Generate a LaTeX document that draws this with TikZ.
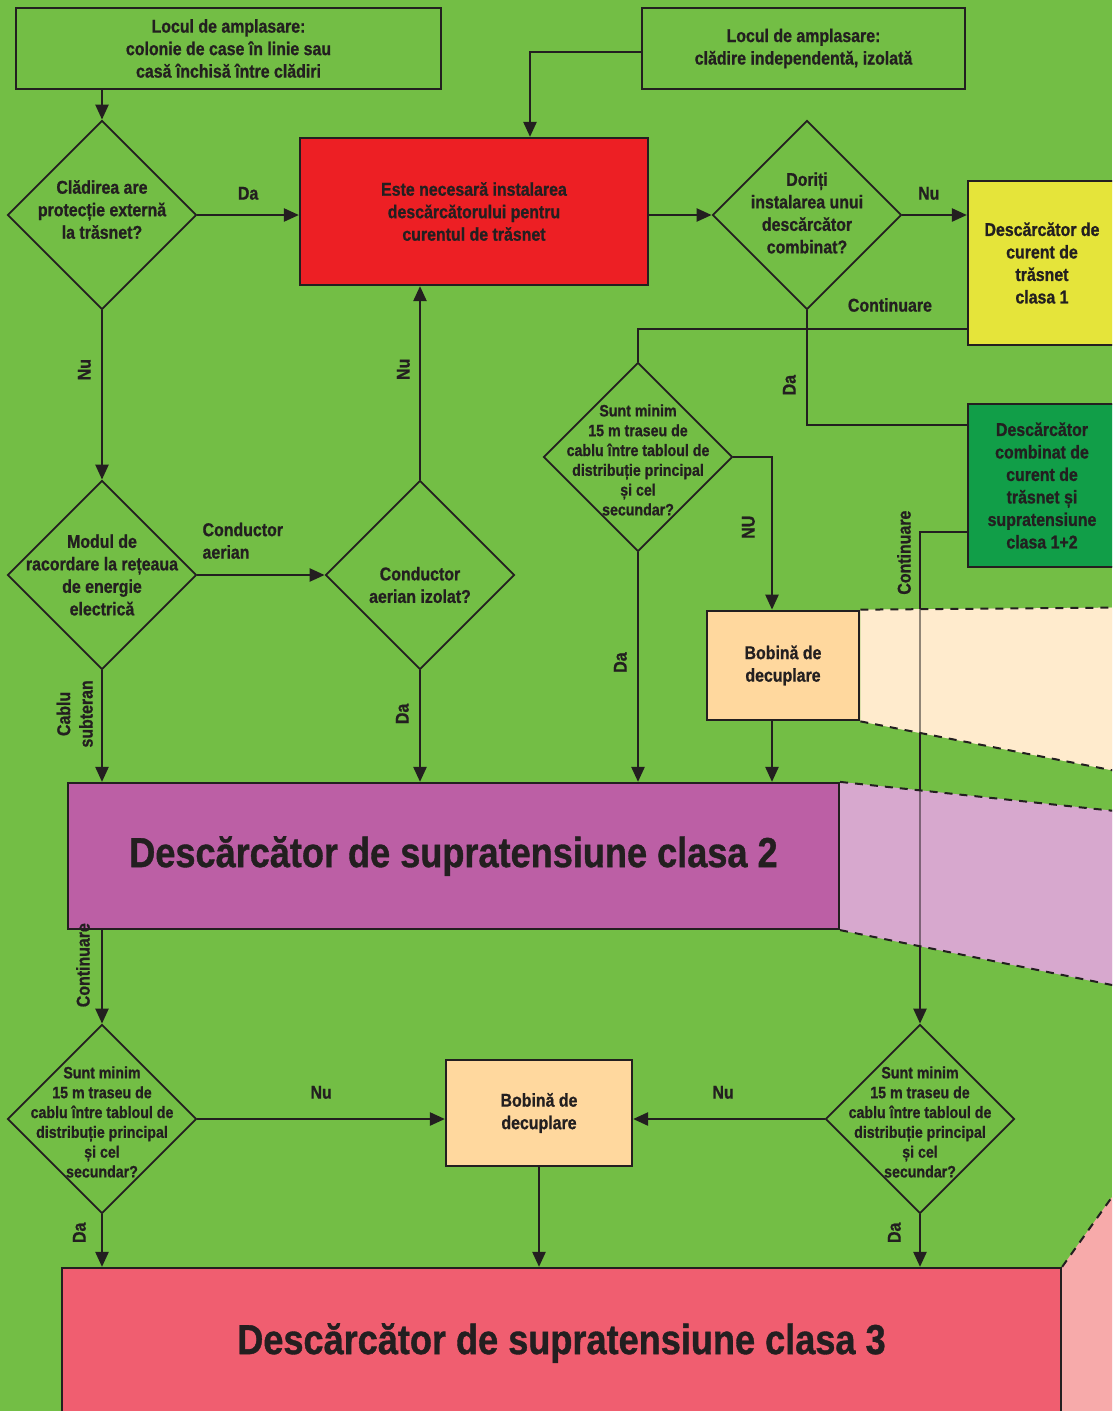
\documentclass[tikz,border=0pt]{standalone}
\usepackage{fontspec}
\setmainfont{Liberation Sans}[FakeStretch=0.86, BoldFeatures={FakeBold=0.9}]
\usetikzlibrary{shapes.geometric,arrows.meta}

\definecolor{fundal}{RGB}{115,190,69}
\definecolor{linie}{RGB}{35,31,32}
\definecolor{rosu}{RGB}{237,31,36}
\definecolor{galben}{RGB}{229,228,58}
\definecolor{verde}{RGB}{17,158,72}
\definecolor{piersica}{RGB}{255,216,158}
\definecolor{piersicadeschis}{RGB}{255,235,205}
\definecolor{mov}{RGB}{188,95,165}
\definecolor{movdeschis}{RGB}{215,168,206}
\definecolor{somon}{RGB}{240,94,112}
\definecolor{rozdeschis}{RGB}{247,170,170}

\tikzset{
  cutie/.style={draw=linie, line width=2.2pt, inner sep=0pt, align=center, text=linie},
  decizie/.style={draw=linie, line width=1.8pt, diamond, inner sep=0pt,
    minimum width=189pt, minimum height=189pt},
  dtext/.style={align=center, text=linie, font=\bfseries\fontsize{16.5}{19.8}\selectfont},
  mare/.style={font=\bfseries\fontsize{42}{50}\selectfont},
  leg/.style={draw=linie, line width=2.4pt},
  et/.style={text=linie, inner sep=0pt},
  vet/.style={text=linie, rotate=90, anchor=south, inner xsep=0pt, inner ysep=10pt},
  punct/.style={draw=linie, line width=2pt, dash pattern=on 8pt off 7pt},
}

\begin{document}
\begin{tikzpicture}[x=1pt,y=-1pt,>={Triangle[length=15pt,width=13pt]},
  font=\bfseries\fontsize{18.5}{22.5}\selectfont]

\clip (0,0) rectangle (1112,1411);
\fill[fundal] (0,0) rectangle (1112,1411);

% casete
\node[cutie, minimum width=425pt, minimum height=81pt] (loc1) at (228.5,48.5)
  {Locul de amplasare:\\colonie de case în linie sau\\casă închisă între clădiri};
\node[cutie, minimum width=323pt, minimum height=81pt] (loc2) at (803.5,48.5)
  {Locul de amplasare:\\clădire independentă, izolată};
\node[cutie, fill=rosu, minimum width=348pt, minimum height=147pt] (nec) at (474,211.5)
  {Este necesară instalarea\\descărcătorului pentru\\curentul de trăsnet};
\node[cutie, fill=galben, minimum width=148pt, minimum height=164pt] (cls1) at (1042,263)
  {Descărcător de\\curent de\\trăsnet\\clasa 1};
\node[cutie, fill=verde, minimum width=148pt, minimum height=163pt] (cls12) at (1042,485.5)
  {Descărcător\\combinat de\\curent de\\trăsnet și\\supratensiune\\clasa 1+2};
\node[cutie, fill=piersica, minimum width=152.5pt, minimum height=109.5pt] (bob1) at (783,665.5)
  {Bobină de\\decuplare};
\node[cutie, fill=mov, mare, minimum width=771pt, minimum height=146pt] (cls2) at (453.5,856)
  {Descărcător de supratensiune clasa 2};
\node[cutie, fill=piersica, minimum width=186pt, minimum height=106pt] (bob2) at (539,1113)
  {Bobină de\\decuplare};
\node[cutie, fill=somon, mare, minimum width=999pt, minimum height=150pt] (cls3) at (561.5,1343)
  {Descărcător de supratensiune clasa 3};

% romburi de decizie
\node[decizie] (q1) at (102,215) {};
\node[decizie] (q2) at (807,215) {};
\node[decizie] (q3) at (638,457) {};
\node[decizie] (q4) at (102,575) {};
\node[decizie] (q5) at (420,575) {};
\node[decizie] (q6) at (102,1119) {};
\node[decizie] (q7) at (920,1119) {};

\node[align=center, text=linie] (q1t) at (102,209.5) {Clădirea are\\protecție externă\\la trăsnet?};
\node[align=center, text=linie] (q2t) at (807,213) {Doriți\\instalarea unui\\descărcător\\combinat?};
\node[dtext] (q3t) at (638,460) {Sunt minim\\15 m traseu de\\cablu între tabloul de\\distribuție principal\\și cel\\secundar?};
\node[align=center, text=linie] (q4t) at (102,575) {Modul de\\racordare la rețeaua\\de energie\\electrică};
\node[align=center, text=linie] (q5t) at (420,585) {Conductor\\aerian izolat?};
\node[dtext] (q6t) at (102,1122) {Sunt minim\\15 m traseu de\\cablu între tabloul de\\distribuție principal\\și cel\\secundar?};
\node[dtext] (q7t) at (920,1122) {Sunt minim\\15 m traseu de\\cablu între tabloul de\\distribuție principal\\și cel\\secundar?};

% zonele din dreapta
\coordinate (w1) at (1116,607.6);
\coordinate (w2) at (1116,771);
\coordinate (w3) at (1116,811.1);
\coordinate (w4) at (1116,985.8);
\coordinate (w5) at (1116,1191.4);
\coordinate (w6) at (1116,1415);
\fill[piersicadeschis] (bob1.north east) -- (w1) -- (w2) -- (bob1.south east) -- cycle;
\fill[movdeschis] (cls2.north east) -- (w3) -- (w4) -- (cls2.south east) -- cycle;
\fill[rozdeschis] (cls3.north east) -- (w5) -- (w6) -- (cls3.south east) -- cycle;

% legaturi
\draw[leg,->] (q1.north |- loc1.south) -- (q1.north);
\draw[leg,->] ([yshift=-3.5pt]loc2.west) -| ([xshift=56pt]nec.north);
\draw[leg,->] (q1.east) -- (q1.east -| nec.west)
  node[midway, above=14pt, et] (da1) {Da};
\draw[leg,->] (nec.east |- q2.west) -- (q2.west);
\draw[leg,->] (q2.east) -- (q2.east -| cls1.west)
  node[pos=0.41, above=14pt, et] (nu1) {Nu};
\draw[leg] (q2.south) |- ([yshift=60.5pt]cls12.west)
  node[pos=0.326, vet] (da2) {Da};
\draw[leg] ([yshift=-66pt]cls1.west) -| (q3.north)
  node[pos=0.117, above=16pt, et] (cont1) {Continuare};
\draw[leg,->] (q3.east) -| ([xshift=-11pt]bob1.north)
  node[pos=0.73, vet, inner ysep=16pt] (nu2) {NU};
\draw[leg,->] (q3.south) -- (q3.south |- cls2.north)
  node[pos=0.48, vet] (da3) {Da};
\draw[leg,->] ([xshift=-11pt]bob1.south) -- ([xshift=-11pt]bob1.south |- cls2.north);
\draw[leg,->] ([yshift=-46.5pt]cls12.west) -| (q7.north)
  node[pos=0.521, vet, inner ysep=8pt] (cont2) {Continuare};
\draw[leg,->] (q1.south) -- (q4.north)
  node[pos=0.35, vet] (nu3) {Nu};
\draw[leg,->] (q4.east) -- (q5.west)
  node[pos=0, anchor=south west, align=left, et, xshift=4pt, yshift=15pt] (aer) {Conductor\\aerian};
\draw[leg,->] (q5.north) -- (q5.north |- nec.south)
  node[pos=0.57, vet, inner ysep=9pt] (nu4) {Nu};
\draw[leg,->] (q5.south) -- (q5.south |- cls2.north)
  node[pos=0.39, vet] (da4) {Da};
\draw[leg,->] (q4.south) -- (q4.south |- cls2.north)
  node[pos=0.39, vet, align=center, inner ysep=8pt] (cab) {Cablu\\subteran};
\draw[leg,->] (q6.north |- cls2.south) -- (q6.north)
  node[pos=0.375, vet, inner ysep=11pt] (cont3) {Continuare};
\draw[leg,->] (q6.east) -- (q6.east -| bob2.west)
  node[midway, above=19pt, et] (nu5) {Nu};
\draw[leg,->] (q7.west) -- (q7.west -| bob2.east)
  node[pos=0.53, above=19pt, et] (nu6) {Nu};
\draw[leg,->] (bob2.south) -- (bob2.south |- cls3.north);
\draw[leg,->] (q6.south) -- (q6.south |- cls3.north)
  node[pos=0.35, vet, inner ysep=15pt] (da5) {Da};
\draw[leg,->] (q7.south) -- (q7.south |- cls3.north)
  node[pos=0.35, vet, inner ysep=18pt] (da6) {Da};

% linia vazuta prin zonele deschise
\fill[piersicadeschis, fill opacity=0.5] (bob1.north east) -- (w1) -- (w2) -- (bob1.south east) -- cycle;
\fill[movdeschis, fill opacity=0.5] (cls2.north east) -- (w3) -- (w4) -- (cls2.south east) -- cycle;

\draw[punct] (bob1.north east) -- (w1);
\draw[punct] (bob1.south east) -- (w2);
\draw[punct] (cls2.north east) -- (w3);
\draw[punct] (cls2.south east) -- (w4);
\draw[punct] (cls3.north east) -- (w5);

\end{tikzpicture}
\end{document}
